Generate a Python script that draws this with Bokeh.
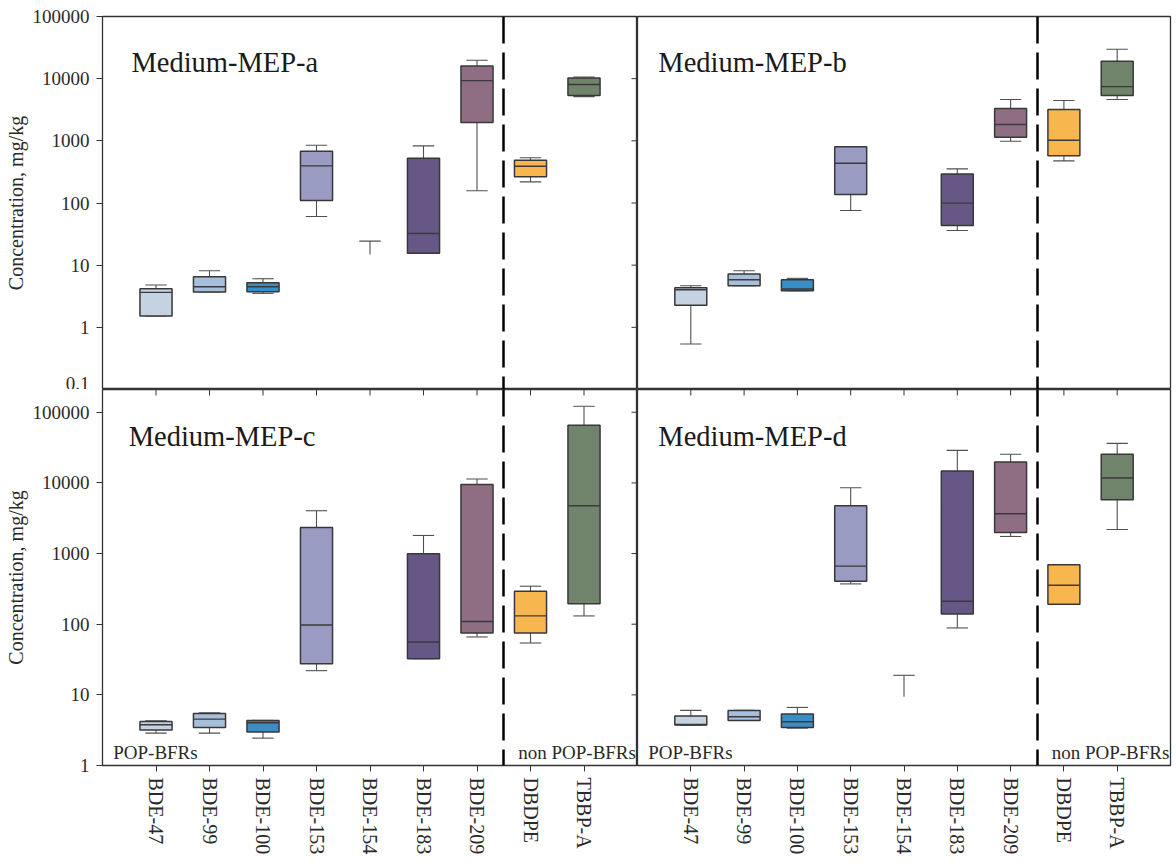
import numpy as np
from bokeh.plotting import figure
from bokeh.models import ColumnDataSource, Range1d, FixedTicker
from bokeh.core.properties import value
from bokeh.layouts import gridplot
from bokeh.embed import file_html
from bokeh.resources import INLINE

nan = float("nan")

categories = ["BDE-47", "BDE-99", "BDE-100", "BDE-153", "BDE-154",
              "BDE-183", "BDE-209", "DBDPE", "TBBP-A"]
colors = ["#c5d2e2", "#a8bfdb", "#3a8ec6", "#9a9bc2", "#9a9bc2",
          "#675786", "#8f6e84", "#f8b64e", "#6f846b"]

# Medium-MEP-a  (lower whisker, Q1, median, Q3, upper whisker)
a_lo  = [1.52, 3.7, 3.52, 60.8, 14.9, 15.5, 157, 219, 5150]
a_q1  = [1.52, 3.7, 3.74, 110, nan, 15.5, 1968, 264, 5350]
a_med = [3.65, 4.5, 4.5, 396, nan, 32.4, 9310, 391, 8040]
a_q3  = [4.18, 6.52, 5.22, 681, nan, 526, 16030, 488, 10270]
a_hi  = [4.79, 8.14, 6.05, 851, 24.4, 830, 19770, 533, 10660]

# Medium-MEP-b
b_lo  = [0.54, 4.67, 3.88, 75.9, nan, 36.2, 987, 476, 4610]
b_q1  = [2.26, 4.67, 3.88, 137, nan, 43.5, 1143, 573, 5350]
b_med = [4.03, 5.84, 4.13, 437, nan, 99.5, 1828, 1024, 7460]
b_q3  = [4.34, 7.19, 5.84, 800, nan, 294, 3305, 3185, 19040]
b_hi  = [4.67, 8.14, 6.13, 800, nan, 354, 4610, 4445, 29670]

# Medium-MEP-c
c_lo  = [2.87, 2.87, 2.44, 22.0, nan, 32.5, 66, 54.2, 131]
c_q1  = [3.17, 3.46, 2.97, 27.6, nan, 32.5, 75.2, 75.2, 194]
c_med = [3.77, 4.54, 4.03, 97.6, nan, 56.1, 109, 131, 4750]
c_q3  = [4.2, 5.46, 4.35, 2342, nan, 991, 9530, 293, 65400]
c_hi  = [4.3, 5.58, 4.35, 4036, nan, 1803, 11350, 345, 121700]

# Medium-MEP-d
d_lo  = [3.73, 4.35, 3.38, 372, 9.4, 88.5, 1746, 190, 2193]
d_q1  = [3.73, 4.35, 3.46, 406, nan, 140, 1990, 192, 5780]
d_med = [3.8, 4.9, 4.16, 663, nan, 211, 3660, 356, 11720]
d_q3  = [5.0, 6.0, 5.34, 4750, nan, 14730, 19770, 692, 25400]
d_hi  = [6.02, 6.05, 6.64, 8550, 18.9, 28900, 25400, 692, 36300]

top_ticks = [0.1, 1, 10, 100, 1000, 10000, 100000]
bottom_ticks = [1, 10, 100, 1000, 10000, 100000]
TOP_RANGE = (0.1, 100000)
BOTTOM_RANGE = (1, 210000)

FONT = "Liberation Serif"
TXT = "#2a2a2a"
TICK = "#333333"


def tick_label(v):
    return "0.1" if v < 1 else str(int(v))


def make_panel(lo, q1, med, q3, hi, title, yr, yticks, left, bottom,
               fw, fh, title_xy):
    p = figure(frame_width=fw, frame_height=fh,
               x_range=Range1d(0, 10), y_range=Range1d(*yr),
               y_axis_type="log", output_backend="svg",
               toolbar_location=None, tools="")
    p.min_border_left = 102 if left else 0
    p.min_border_right = 0 if left else 6
    p.min_border_top = 0 if bottom else 16
    p.min_border_bottom = 95 if bottom else 0
    p.outline_line_color = "#333333"
    p.outline_line_width = 1.3
    p.xgrid.visible = False
    p.ygrid.visible = False
    p.background_fill_color = "white"
    p.border_fill_color = "white"

    x = np.arange(1, len(categories) + 1)
    lo_a, q1_a, med_a, q3_a, hi_a = (np.array(v, dtype=float)
                                     for v in (lo, q1, med, q3, hi))
    up_base = np.where(np.isnan(q3_a), lo_a, q3_a)
    lo_cap = np.where(np.isnan(q1_a), nan, lo_a)
    src = ColumnDataSource(dict(x=x, lo=lo_a, q1=q1_a, med=med_a, q3=q3_a,
                                hi=hi_a, up_base=up_base, lo_cap=lo_cap,
                                xl=x - 0.2, xr=x + 0.2, bl=x - 0.3, br=x + 0.3,
                                color=colors))
    wc = "#505050"
    p.segment(x0="x", x1="x", y0="up_base", y1="hi", source=src,
              line_color=wc, line_width=1.1)
    p.segment(x0="x", x1="x", y0="lo", y1="q1", source=src,
              line_color=wc, line_width=1.1)
    p.segment(x0="xl", x1="xr", y0="hi", y1="hi", source=src,
              line_color=wc, line_width=1.1)
    p.segment(x0="xl", x1="xr", y0="lo_cap", y1="lo_cap", source=src,
              line_color=wc, line_width=1.1)
    p.vbar(x="x", width=0.6, bottom="q1", top="q3", source=src,
           fill_color="color", line_color="#383838", line_width=1.5)
    p.segment(x0="bl", x1="br", y0="med", y1="med", source=src,
              line_color="#3a3a3a", line_width=1.4)

    # divider between POP-BFRs and non POP-BFRs
    p.vspan(x=[7.5], line_color="black", line_width=2.5, line_dash="27 9")

    p.text(x=[title_xy[0]], y=[title_xy[1]], text=[title],
           text_font=value(FONT), text_font_size=value("28.5px"),
           text_color="#1a1a1a", text_baseline="alphabetic")

    # inward tick marks on the frame edges (half of each dash is clipped)
    if left:
        p.scatter(x=[10] * len(yticks), y=yticks, marker="dash", size=12,
                  line_color=TICK, line_width=1)
    if bottom:
        p.scatter(x=x, y=[yr[1]] * len(x), marker="dash", size=12,
                  angle=np.pi / 2, line_color=TICK, line_width=1)

    # y axis
    yax = p.yaxis[0]
    if left:
        yax.ticker = FixedTicker(ticks=list(yticks))
        yax.major_label_overrides = {v: tick_label(v) for v in yticks}
        yax.minor_tick_line_color = None
        yax.axis_line_color = None
        yax.major_tick_line_color = TICK
        yax.major_tick_out = 6
        yax.major_tick_in = 0
        yax.major_label_standoff = 7
        yax.major_label_text_font = FONT
        yax.major_label_text_font_size = "19px"
        yax.major_label_text_color = TXT
        yax.axis_label = "Concentration, mg/kg"
        yax.axis_label_text_font = FONT
        yax.axis_label_text_font_style = "normal"
        yax.axis_label_text_font_size = "20px"
        yax.axis_label_text_color = TXT
        yax.axis_label_standoff = 3
    else:
        yax.visible = False

    xax = p.xaxis[0]
    if bottom:
        xax.ticker = FixedTicker(ticks=list(x))
        xax.major_label_overrides = {int(i): c for i, c in zip(x, categories)}
        xax.major_label_orientation = "vertical"
        xax.major_tick_out = 6
        xax.major_tick_in = 0
        xax.minor_tick_line_color = None
        xax.axis_line_color = None
        xax.major_tick_line_color = TICK
        xax.major_label_text_font = FONT
        xax.major_label_text_font_size = "20px"
        xax.major_label_text_color = TXT
        xax.major_label_standoff = 6
        p.text(x=[0.2, 7.77], y=[1.55, 1.55], text=["POP-BFRs", "non POP-BFRs"],
               text_font=value(FONT), text_font_size=value("19px"),
               text_color=TXT, text_baseline="alphabetic")
    else:
        xax.visible = False
    return p


pa = make_panel(a_lo, a_q1, a_med, a_q3, a_hi, "Medium-MEP-a",
                TOP_RANGE, top_ticks, True, False, 535, 373, (0.54, 18200))
pb = make_panel(b_lo, b_q1, b_med, b_q3, b_hi, "Medium-MEP-b",
                TOP_RANGE, top_ticks, False, False, 533, 373, (0.39, 18200))
pc = make_panel(c_lo, c_q1, c_med, c_q3, c_hi, "Medium-MEP-c",
                BOTTOM_RANGE, bottom_ticks, True, True, 535, 376, (0.49, 45400))
pd = make_panel(d_lo, d_q1, d_med, d_q3, d_hi, "Medium-MEP-d",
                BOTTOM_RANGE, bottom_ticks, False, True, 533, 376, (0.39, 45400))

grid = gridplot([[pa, pb], [pc, pd]], toolbar_location=None)

open("out.html", "w").write(file_html(grid, INLINE))
